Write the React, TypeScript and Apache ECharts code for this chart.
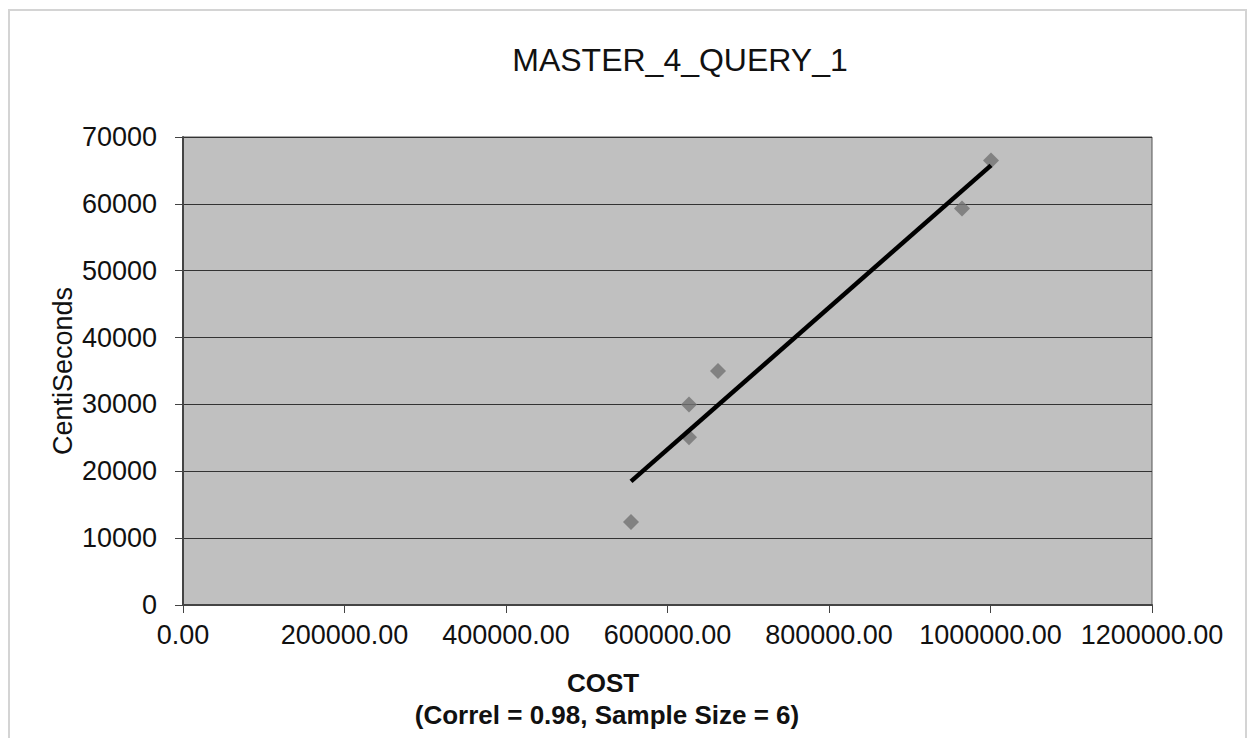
import React, { useEffect, useRef } from "react";
import * as echarts from "echarts";

const chartTitle = "MASTER_4_QUERY_1";
const xAxisTitle = "COST";
const xAxisSubtitle = "(Correl = 0.98, Sample Size = 6)";
const yAxisTitle = "CentiSeconds";

const costValues = [554800, 626600, 626600, 662500, 964700, 1000600];
const centiSecondsValues = [12400, 30000, 25100, 35000, 59300, 66500];

const xTicks = { min: 0, max: 1200000, interval: 200000 };
const yTicks = { min: 0, max: 70000, interval: 10000 };

function linearTrend(xs: number[], ys: number[]) {
  const n = xs.length;
  const mx = xs.reduce((a, b) => a + b, 0) / n;
  const my = ys.reduce((a, b) => a + b, 0) / n;
  let sxy = 0;
  let sxx = 0;
  for (let i = 0; i < n; i++) {
    sxy += (xs[i] - mx) * (ys[i] - my);
    sxx += (xs[i] - mx) * (xs[i] - mx);
  }
  const slope = sxy / sxx;
  const intercept = my - slope * mx;
  const x0 = Math.min(...xs);
  const x1 = Math.max(...xs);
  return [
    [x0, intercept + slope * x0],
    [x1, intercept + slope * x1],
  ];
}

export default function App() {
  const ref = useRef<HTMLDivElement>(null);

  useEffect(() => {
    if (!ref.current) return;
    const chart = echarts.init(ref.current, null, { renderer: "svg" });
    const font = "'Liberation Sans', Arial, sans-serif";
    const points = costValues.map((x, i) => [x, centiSecondsValues[i]]);
    const trend = linearTrend(costValues, centiSecondsValues);

    chart.setOption({
      animation: false,
      backgroundColor: "#ffffff",
      title: {
        text: chartTitle,
        left: 675,
        top: 39,
        textAlign: "center",
        textStyle: {
          fontFamily: font,
          fontSize: 32,
          fontWeight: "normal",
          color: "#111",
        },
      },
      grid: {
        left: 183,
        right: 96,
        top: 137,
        bottom: 133,
        show: true,
        backgroundColor: "#c0c0c0",
        borderColor: "#555",
        borderWidth: 1,
      },
      xAxis: {
        type: "value",
        min: xTicks.min,
        max: xTicks.max,
        interval: xTicks.interval,
        axisLine: { show: true, onZero: false, lineStyle: { color: "#444", width: 2 } },
        axisTick: { show: true, inside: false, length: 8, lineStyle: { color: "#444" } },
        axisLabel: {
          margin: 16,
          fontFamily: font,
          fontSize: 27,
          color: "#111",
          formatter: (v: number) => v.toFixed(2),
        },
        splitLine: { show: false },
      },
      yAxis: {
        type: "value",
        min: yTicks.min,
        max: yTicks.max,
        interval: yTicks.interval,
        axisLine: { show: true, onZero: false, lineStyle: { color: "#444", width: 2 } },
        axisTick: { show: true, inside: false, length: 8, lineStyle: { color: "#444" } },
        axisLabel: {
          margin: 26,
          fontFamily: font,
          fontSize: 27,
          color: "#111",
          formatter: (v: number) => String(v),
        },
        splitLine: { show: true, lineStyle: { color: "#333", width: 1 } },
      },
      series: [
        {
          type: "scatter",
          data: points,
          symbol: "diamond",
          symbolSize: 16,
          itemStyle: { color: "#727272" },
          z: 3,
        },
        {
          type: "line",
          data: trend,
          showSymbol: false,
          symbol: "none",
          lineStyle: { color: "#000", width: 4.5 },
          z: 4,
        },
      ],
      graphic: [
        {
          type: "rect",
          shape: { x: 9, y: 10, width: 1237, height: 740 },
          style: { fill: "none", stroke: "#d4d4d4", lineWidth: 2 },
          silent: true,
          z: -1,
        },
        {
          type: "text",
          x: 63,
          y: 371,
          rotation: Math.PI / 2,
          style: {
            text: yAxisTitle,
            font: `27px ${font}`,
            fill: "#111",
            align: "center",
            verticalAlign: "middle",
          },
        },
        {
          type: "text",
          x: 603,
          y: 683,
          style: {
            text: xAxisTitle,
            font: `bold 26px ${font}`,
            fill: "#111",
            align: "center",
            verticalAlign: "middle",
          },
        },
        {
          type: "text",
          x: 607,
          y: 715,
          style: {
            text: xAxisSubtitle,
            font: `bold 26px ${font}`,
            fill: "#111",
            align: "center",
            verticalAlign: "middle",
          },
        },
      ],
    });

    return () => chart.dispose();
  }, []);

  return (
    <div
      ref={ref}
      style={{ position: "fixed", left: 0, top: 0, width: 1248, height: 738 }}
    />
  );
}
